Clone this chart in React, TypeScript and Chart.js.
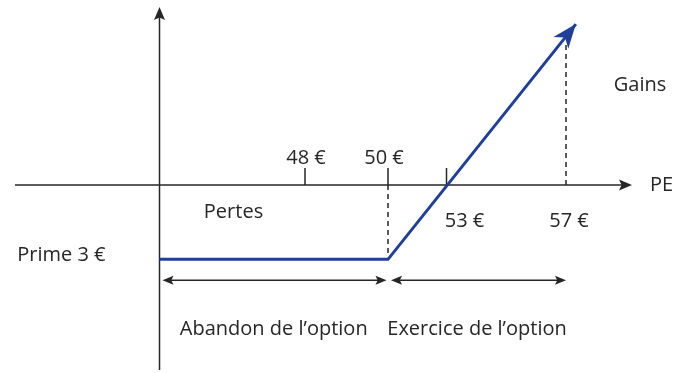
import React, { useEffect, useRef } from 'react';
import { Chart, registerables, LinearScale } from 'chart.js';

// ---- data ----
const payoffPE = [0, 50, 57.33];
const payoffValue = [-3, -3, 6.5];
const tickValues = [48, 50, 53, 57];
const tickLabels = ['48 €', '50 €', '53 €', '57 €'];
const strikePrice = 50;
const breakEvenPrice = 53;
const maxShownPrice = 57;
const premium = 3;
const zoneStarts = [0, 50];
const zoneEnds = [50, 57];
const zoneNames = ['Abandon de l’option', 'Exercice de l’option'];
const axisTitles = ['PE', 'Gains', 'Pertes'];

// Piecewise-linear x scale (the drawing is schematic, not to scale)
class PiecewiseScale extends LinearScale {
  static id = 'piecewise';
  static defaults = LinearScale.defaults;
  _anchors(): number[][] {
    return ((this.options as any).anchors || []) as number[][];
  }
  getPixelForValue(value: number) {
    const a = this._anchors();
    if (a.length < 2) return super.getPixelForValue(value);
    let i = 0;
    if (value <= a[0][0]) i = 0;
    else if (value >= a[a.length - 1][0]) i = a.length - 2;
    else {
      while (i < a.length - 2 && value > a[i + 1][0]) i++;
    }
    const [v0, d0] = a[i];
    const [v1, d1] = a[i + 1];
    const dec = d0 + ((value - v0) / (v1 - v0)) * (d1 - d0);
    return this.getPixelForDecimal(dec);
  }
  getValueForPixel(pixel: number) {
    const a = this._anchors();
    if (a.length < 2) return super.getValueForPixel(pixel);
    const dec = this.getDecimalForPixel(pixel);
    let i = 0;
    if (dec <= a[0][1]) i = 0;
    else if (dec >= a[a.length - 1][1]) i = a.length - 2;
    else {
      while (i < a.length - 2 && dec > a[i + 1][1]) i++;
    }
    const [v0, d0] = a[i];
    const [v1, d1] = a[i + 1];
    return v0 + ((dec - d0) / (d1 - d0)) * (v1 - v0);
  }
}

Chart.register(...registerables, PiecewiseScale as any);

const INK = '#262626';
const BLUE = '#1f3f98';
const FONT = '20px "Open Sans", "DejaVu Sans", sans-serif';

function arrowHead(ctx: CanvasRenderingContext2D, tx: number, ty: number, ang: number, len: number, hw: number, notch: number) {
  const c = Math.cos(ang), s = Math.sin(ang);
  const P = (lx: number, ly: number) => [tx + lx * c - ly * s, ty + lx * s + ly * c];
  const p1 = P(-len, -hw), p2 = P(-len * notch, 0), p3 = P(-len, hw);
  ctx.beginPath();
  ctx.moveTo(tx, ty);
  ctx.lineTo(p1[0], p1[1]);
  ctx.lineTo(p2[0], p2[1]);
  ctx.lineTo(p3[0], p3[1]);
  ctx.closePath();
  ctx.fill();
}

function seg(ctx: CanvasRenderingContext2D, x1: number, y1: number, x2: number, y2: number) {
  ctx.beginPath();
  ctx.moveTo(x1, y1);
  ctx.lineTo(x2, y2);
  ctx.stroke();
}

const decorPlugin = {
  id: 'payoffDecor',
  beforeDatasetsDraw(chart: any) {
    const { ctx, chartArea: ca, scales } = chart;
    const x = scales.x, y = scales.y;
    const y0 = y.getPixelForValue(0);
    const x0 = x.getPixelForValue(0);
    ctx.save();
    ctx.strokeStyle = INK;
    ctx.fillStyle = INK;
    ctx.lineWidth = 1.5;
    // axes
    seg(ctx, ca.left, y0, ca.right - 6, y0);
    arrowHead(ctx, ca.right, y0, 0, 13, 5.5, 0.8);
    seg(ctx, x0, ca.bottom, x0, ca.top + 6);
    arrowHead(ctx, x0, ca.top, -Math.PI / 2, 13, 5.5, 0.8);
    // tick marks above axis
    tickValues.forEach((v) => {
      if (v === maxShownPrice) return;
      const px = x.getPixelForValue(v);
      seg(ctx, px, y0 - 17, px, y0);
    });
    // dashed guides
    ctx.setLineDash([5, 4]);
    const xs = x.getPixelForValue(strikePrice);
    seg(ctx, xs, y0, xs, y.getPixelForValue(-premium) - 2);
    const meta = chart.getDatasetMeta(0);
    const pts = meta.data;
    const xm = x.getPixelForValue(maxShownPrice);
    let lineY = y0;
    for (let i = 0; i < pts.length - 1; i++) {
      const a = pts[i], b = pts[i + 1];
      if (xm >= a.x && xm <= b.x) {
        lineY = a.y + ((xm - a.x) / (b.x - a.x)) * (b.y - a.y);
      }
    }
    seg(ctx, xm, y0, xm, lineY + 6);
    ctx.setLineDash([]);
    ctx.restore();
  },
  afterDatasetsDraw(chart: any) {
    const { ctx, chartArea: ca, scales } = chart;
    const x = scales.x, y = scales.y;
    const y0 = y.getPixelForValue(0);
    const x0 = x.getPixelForValue(0);
    const yp = y.getPixelForValue(-premium);
    ctx.save();
    // payoff arrow head
    const pts = chart.getDatasetMeta(0).data;
    const a = pts[pts.length - 2], b = pts[pts.length - 1];
    ctx.fillStyle = BLUE;
    arrowHead(ctx, b.x, b.y, Math.atan2(b.y - a.y, b.x - a.x), 24, 9.5, 0.72);

    // double-headed range arrows
    ctx.strokeStyle = INK;
    ctx.fillStyle = INK;
    ctx.lineWidth = 1.5;
    const ya = yp + 21;
    zoneStarts.forEach((s, i) => {
      const xa = (s === 0 ? x0 : x.getPixelForValue(s)) + 3;
      const xb = x.getPixelForValue(zoneEnds[i]) - (i === 0 ? 1.5 : 0);
      seg(ctx, xa + 6, ya, xb - 6, ya);
      arrowHead(ctx, xa, ya, Math.PI, 11, 4.5, 0.8);
      arrowHead(ctx, xb, ya, 0, 11, 4.5, 0.8);
    });

    // texts
    ctx.fillStyle = '#262626';
    ctx.font = FONT;
    ctx.textBaseline = 'middle';
    ctx.textAlign = 'center';
    tickValues.forEach((v, i) => {
      const px = x.getPixelForValue(v);
      if (v < breakEvenPrice) {
        ctx.fillText(tickLabels[i], px + (v === strikePrice ? -4 : 1), y0 - 27);
      } else {
        ctx.fillText(tickLabels[i], px + (v === breakEvenPrice ? 18 : 3), y0 + 36);
      }
    });
    zoneNames.forEach((n, i) => {
      const c = (x.getPixelForValue(zoneStarts[i]) + x.getPixelForValue(zoneEnds[i])) / 2;
      ctx.fillText(n, c, yp + 70);
    });
    ctx.fillText(axisTitles[2], x0 + 74, y0 + 27);
    ctx.fillText(axisTitles[1], ca.right + 8, y0 - 100);
    ctx.textAlign = 'left';
    ctx.fillText(axisTitles[0], ca.right + 18, y0);
    ctx.textAlign = 'right';
    ctx.fillText('Prime ' + premium + ' €', x0 - 54, yp - 4);
    ctx.restore();
  },
};

export default function App() {
  const ref = useRef<HTMLCanvasElement>(null);
  useEffect(() => {
    if (!ref.current) return;
    const W = 674;
    const left = 15, right = 632;
    const frac = (px: number) => (px - left) / (right - left);
    const chart = new Chart(ref.current, {
      type: 'line',
      data: {
        datasets: [
          {
            data: payoffPE.map((pe, i) => ({ x: pe, y: payoffValue[i] })),
            borderColor: BLUE,
            borderWidth: 3,
            pointRadius: 0,
            tension: 0,
            fill: false,
            clip: false as any,
            borderJoinStyle: 'miter',
          },
        ],
      },
      options: {
        animation: false,
        responsive: false,
        events: [],
        layout: { padding: { left: left, right: W - right, top: 7, bottom: 3 } },
        plugins: { legend: { display: false }, tooltip: { enabled: false }, title: { display: false } },
        scales: {
          x: {
            type: 'piecewise' as any,
            display: false,
            min: -50,
            max: 60,
            anchors: [
              [0, frac(159.5)],
              [48, frac(305)],
              [50, frac(388)],
              [53, frac(446.5)],
              [57, frac(566)],
            ],
          } as any,
          y: {
            type: 'linear',
            display: false,
            min: -7.47,
            max: 7.19,
          },
        },
      },
      plugins: [decorPlugin],
    });
    return () => chart.destroy();
  }, []);
  return (
    <div style={{ position: 'fixed', left: 0, top: 0, width: 674, height: 373, background: '#fff' }}>
      <canvas ref={ref} width={674} height={373} />
    </div>
  );
}
